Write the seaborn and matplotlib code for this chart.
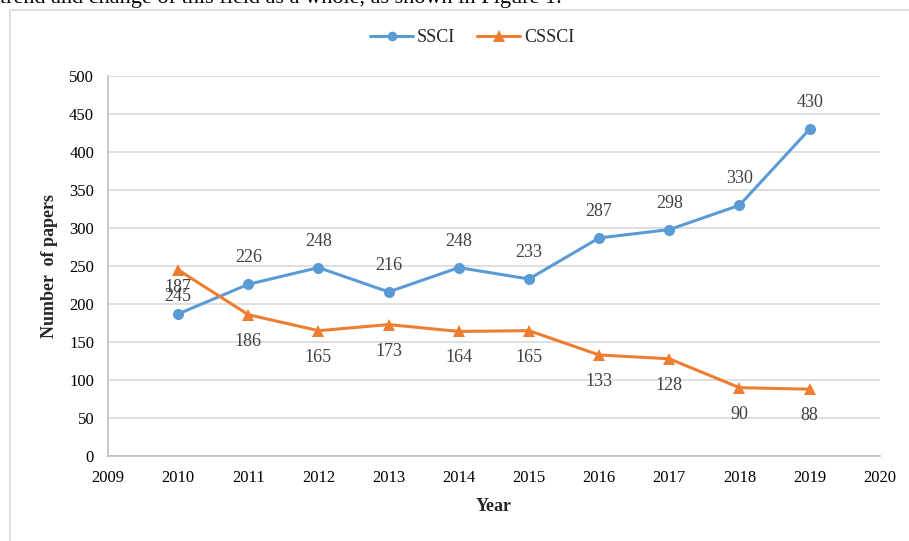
import matplotlib
matplotlib.use("Agg")
import matplotlib.pyplot as plt
import seaborn as sns
import pandas as pd
from matplotlib.patches import Rectangle
from matplotlib.lines import Line2D

years = [2010, 2011, 2012, 2013, 2014, 2015, 2016, 2017, 2018, 2019]
ssci = [187, 226, 248, 216, 248, 233, 287, 298, 330, 430]
cssci = [245, 186, 165, 173, 164, 165, 133, 128, 90, 88]
x_ticks = list(range(2009, 2021))
y_ticks = list(range(0, 501, 50))

sns.set_theme(style="white")
plt.rcParams['font.family'] = ['Liberation Serif', 'DejaVu Serif']

df = pd.DataFrame({
    "Year": years * 2,
    "Papers": ssci + cssci,
    "Index": ["SSCI"] * len(years) + ["CSSCI"] * len(years),
})

fig = plt.figure(figsize=(9.09, 5.41), dpi=100)
ax = fig.add_axes([0.1188, 0.157, 0.849, 0.7024])

# outer border (chart frame)
fig.patches.append(Rectangle((10 / 909, -0.05), 1.1, 1 - 10 / 541 + 0.05,
                             transform=fig.transFigure, fill=False,
                             edgecolor="#d9d9d9", linewidth=1.2))
# cut-off caption text at the top
fig.text(0.0, 1 - 3 / 541, "trend and change of this field as a whole, as shown in Figure 1.",
         fontsize=16, va="baseline", ha="left", color="black")

palette = {"SSCI": "#5B9BD5", "CSSCI": "#ED7D31"}
sns.lineplot(data=df, x="Year", y="Papers", hue="Index", style="Index",
             markers={"SSCI": "o", "CSSCI": "^"}, dashes=False,
             palette=palette, linewidth=2.2, markersize=8,
             markeredgewidth=0, ax=ax, legend=False)

for xv, yv in zip(years, ssci):
    ax.annotate(str(yv), (xv, yv), xytext=(0, 13), textcoords="offset points",
                ha="center", va="bottom", fontsize=13, color="#404040")
for xv, yv in zip(years, cssci):
    ax.annotate(str(yv), (xv, yv), xytext=(0, -13), textcoords="offset points",
                ha="center", va="top", fontsize=13, color="#404040")

ax.set_xlim(2009, 2020)
ax.set_ylim(0, 500)
ax.set_xticks(x_ticks)
ax.set_xticklabels([str(t) for t in x_ticks], fontsize=12)
ax.set_yticks(y_ticks)
ax.set_yticklabels([str(t) for t in y_ticks], fontsize=12)
ax.tick_params(axis="both", length=0, pad=10, colors="black")
ax.yaxis.grid(True, color="#d9d9d9", linewidth=1.2)
ax.xaxis.grid(False)
for s in ["top", "right"]:
    ax.spines[s].set_visible(False)
ax.spines["left"].set_color("#bfbfbf")
ax.spines["bottom"].set_color("#bfbfbf")
ax.spines["left"].set_linewidth(1.2)
ax.spines["bottom"].set_linewidth(1.2)

ax.set_xlabel("Year", fontsize=13, fontweight="bold", labelpad=9)
ax.set_ylabel("Number  of papers", fontsize=13, fontweight="bold", labelpad=8)

# legend
handles = [Line2D([0], [0], color=palette["SSCI"], marker="o", linewidth=2.2,
                  markersize=7, markeredgewidth=0),
           Line2D([0], [0], color=palette["CSSCI"], marker="^", linewidth=2.2,
                  markersize=8, markeredgewidth=0)]
fig.legend(handles, ["SSCI", "CSSCI"], loc="center", bbox_to_anchor=(472 / 909, 1 - 38 / 541),
           ncol=2, frameon=False, fontsize=13, handlelength=2.4, handletextpad=0.2,
           columnspacing=1.2)

fig.savefig("out.png", dpi=100)
